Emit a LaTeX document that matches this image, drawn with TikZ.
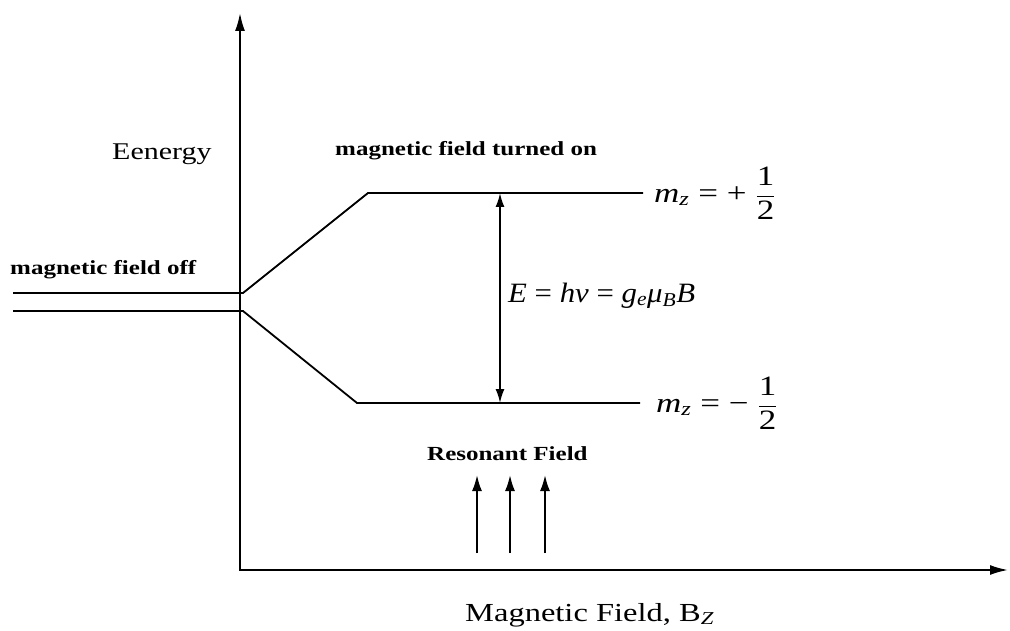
\documentclass[tikz,border=0pt]{standalone}
\usepackage{fontspec}
\setmainfont{Liberation Serif}
\usetikzlibrary{arrows.meta}
\newcommand\st[1]{\scalebox{1.25}[1]{#1}}
\tikzset{
  axis/.style={line width=1.9pt, {Latex[length=18pt,width=10pt]}-{Latex[length=18pt,width=10pt]}},
  level/.style={line width=1.8pt},
  gap/.style={line width=1.8pt, {Latex[length=14pt,width=9pt]}-{Latex[length=14pt,width=9pt]}},
  field/.style={line width=1.9pt, -{Latex[length=16pt,width=10pt]}},
  lbl/.style={inner sep=0pt, anchor=base west, font=\bfseries\fontsize{20}{22}\selectfont},
  plain/.style={inner sep=0pt, anchor=base west}
}
\begin{document}
\begin{tikzpicture}[x=1pt,y=-1pt]
\useasboundingbox (0,0) rectangle (1010,631);
% axes
\coordinate (vtop) at (240,13);
\coordinate (origin) at (240,570);
\coordinate (hend) at (1008,570);
\draw[axis] (vtop) -- (origin) -- (hend);
% levels
\coordinate (offA) at (13,293);
\coordinate (offB) at (13,311);
\coordinate (splitA) at (243,293);
\coordinate (splitB) at (243,311);
\coordinate (upL) at (368,193);
\coordinate (upR) at (643,193);
\coordinate (loL) at (357,403);
\coordinate (loR) at (640,403);
\draw[level] (offA) -- (splitA) -- (upL) -- (upR);
\draw[level] (offB) -- (splitB) -- (loL) -- (loR);
% energy gap
\coordinate (gapT) at (500,193);
\coordinate (gapB) at (500,403);
\draw[gap] (gapT) -- (gapB);
% resonant field arrows
\foreach \i/\x in {1/477,2/510,3/545}{
  \coordinate (r\i b) at (\x,553);
  \coordinate (r\i t) at (\x,475);
  \draw[field] (r\i b) -- (r\i t);
}
% texts
\node[plain, font=\fontsize{24}{26}\selectfont] (energy) at (112,160) {\st{Eenergy}};
\node[lbl] (on) at (335,156) {\st{magnetic field turned on}};
\node[lbl] (off) at (10,275) {\st{magnetic field off}};
\node[lbl] (res) at (427,460) {\st{Resonant Field}};
\node[plain, font=\fontsize{26}{28}\selectfont] (bfield) at (465,621) {\st{Magnetic Field, B\textsubscript{\textit{Z}}}};
\node[plain, font=\fontsize{28}{30}\selectfont] (eq) at (508,302) {\scalebox{1.1}[1]{\textit{E} = \textit{hν} = \textit{g}\textsubscript{\textit{e}}\textit{μ}\textsubscript{\textit{B}}\textit{B}}};
\node[inner sep=0pt, anchor=west, font=\fontsize{28}{32}\selectfont] (mup) at (654,193) {\st{\textit{m}\textsubscript{\textit{z}} = + $\displaystyle\frac{\textup{1}}{\textup{2}}$}};
\node[inner sep=0pt, anchor=west, font=\fontsize{28}{32}\selectfont] (mdown) at (656,403) {\st{\textit{m}\textsubscript{\textit{z}} = − $\displaystyle\frac{\textup{1}}{\textup{2}}$}};
\end{tikzpicture}
\end{document}
